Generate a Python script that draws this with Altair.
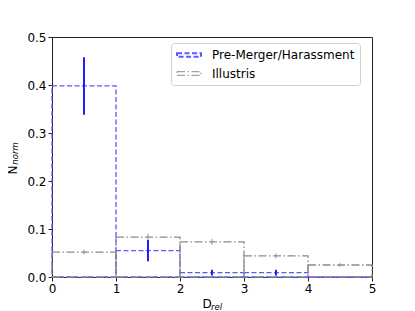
import altair as alt
import pandas as pd

series_names = ["Pre-Merger/Harassment", "Illustris"]
bin_lo = [0, 1, 2, 3, 4]
bin_hi = [1, 2, 3, 4, 5]
bin_mid = [0.5, 1.5, 2.5, 3.5, 4.5]

pm_vals = [0.398, 0.055, 0.009, 0.009, 0.0]
pm_err_lo = [0.338, 0.033, 0.003, 0.003, 0.0]
pm_err_hi = [0.458, 0.077, 0.015, 0.015, 0.0]

il_vals = [0.052, 0.083, 0.073, 0.044, 0.025]
il_err_lo = [0.047, 0.077, 0.067, 0.039, 0.021]
il_err_hi = [0.057, 0.090, 0.079, 0.049, 0.029]

y_ticks = [0.0, 0.1, 0.2, 0.3, 0.4, 0.5]
x_ticks = [0, 1, 2, 3, 4, 5]

step_colors = ["#5a5aff", "#8c8c8c"]
step_dashes = [[5, 2.5], [8, 2.5, 1.5, 2.5]]
err_colors = ["#1f1fff", "#8c8c8c"]
err_widths = [2, 1]

rows = []
for name, vals, elo, ehi in [
    (series_names[0], pm_vals, pm_err_lo, pm_err_hi),
    (series_names[1], il_vals, il_err_lo, il_err_hi),
]:
    for i in range(len(bin_lo)):
        rows.append(dict(series=name, lo=bin_lo[i], hi=bin_hi[i], mid=bin_mid[i],
                         val=vals[i], elo=elo[i], ehi=ehi[i], zero=0.0))
df = pd.DataFrame(rows)
err_df = df[df["ehi"] > df["elo"]]

xs = alt.Scale(domain=[0, 5], nice=False, zero=False)
ys = alt.Scale(domain=[0, 0.5], nice=False)

x_axis = alt.Axis(values=x_ticks, format="d", title=None, labelFlush=False)
y_axis = alt.Axis(values=y_ticks, format=".1f", title=None, labelFlush=False)

step_layers = []
for k, name in enumerate(series_names):
    step_layers.append(
        alt.Chart(df[df["series"] == name]).mark_rect(
            filled=False, strokeWidth=1.3, stroke=step_colors[k],
            strokeDash=step_dashes[k], fill="transparent",
        ).encode(
            x=alt.X("lo:Q", scale=xs, axis=x_axis),
            x2="hi:Q",
            y=alt.Y("val:Q", scale=ys, axis=y_axis),
            y2="zero:Q",
        )
    )

# legend carrier: zero-length rules at the data origin of each bin
legend_layer = alt.Chart(df).mark_rule(strokeWidth=1.3).encode(
    x=alt.X("lo:Q", scale=xs),
    x2="lo:Q",
    y=alt.Y("zero:Q", scale=ys),
    y2="zero:Q",
    stroke=alt.Stroke("series:N", scale=alt.Scale(domain=series_names, range=step_colors),
                      legend=alt.Legend(title=None)),
    strokeDash=alt.StrokeDash("series:N", scale=alt.Scale(domain=series_names, range=step_dashes),
                              legend=alt.Legend(title=None)),
)

errs = alt.Chart(err_df).mark_rule().encode(
    x=alt.X("mid:Q", scale=xs),
    y=alt.Y("elo:Q", scale=ys),
    y2="ehi:Q",
    color=alt.Color("series:N", scale=alt.Scale(domain=series_names, range=err_colors), legend=None),
    strokeWidth=alt.StrokeWidth("series:N", scale=alt.Scale(domain=series_names, range=err_widths), legend=None),
)

title_df = pd.DataFrame({"t": ["N"]})
def txt(text, x, y, size, italic=False, angle=0):
    return alt.Chart(title_df).mark_text(
        text=text, fontSize=size, font="DejaVu Sans", color="black",
        fontStyle="italic" if italic else "normal", angle=angle,
        align="center", baseline="middle",
    ).encode(x=alt.value(x), y=alt.value(y))

titles = [
    txt("N", -39, 133, 12, angle=270),
    txt("norm", -37, 116.5, 8.5, italic=True, angle=270),
    txt("D", 155, 267, 12),
    txt("rel", 164.5, 269.5, 8.5, italic=True),
]

chart = alt.layer(step_layers[0], step_layers[1], legend_layer, errs, *titles).properties(
    width=320, height=240,
    autosize="none",
    padding={"left": 44, "top": 29, "right": 35, "bottom": 44},
).configure_view(
    stroke="#222222", strokeWidth=1
).configure_axis(
    grid=False, domainColor="#222222", tickColor="#222222", labelColor="black",
    labelFont="DejaVu Sans", labelFontSize=12, tickSize=4, labelPadding=2,
    domainWidth=1, tickWidth=1,
).configure_legend(
    orient="none", legendX=119, legendY=6,
    fillColor="white", strokeColor="#d0d0d0", cornerRadius=3, padding=5,
    labelFont="DejaVu Sans", labelFontSize=12, labelColor="black",
    symbolType="M-1,-0.3L3,-0.3L3,0.3L-1,0.3Z", symbolSize=144,
    symbolFillColor="transparent", symbolStrokeWidth=1.3, labelOffset=22,
    rowPadding=6,
)

chart.save("out.html", embed_options={"renderer": "svg", "actions": False})
